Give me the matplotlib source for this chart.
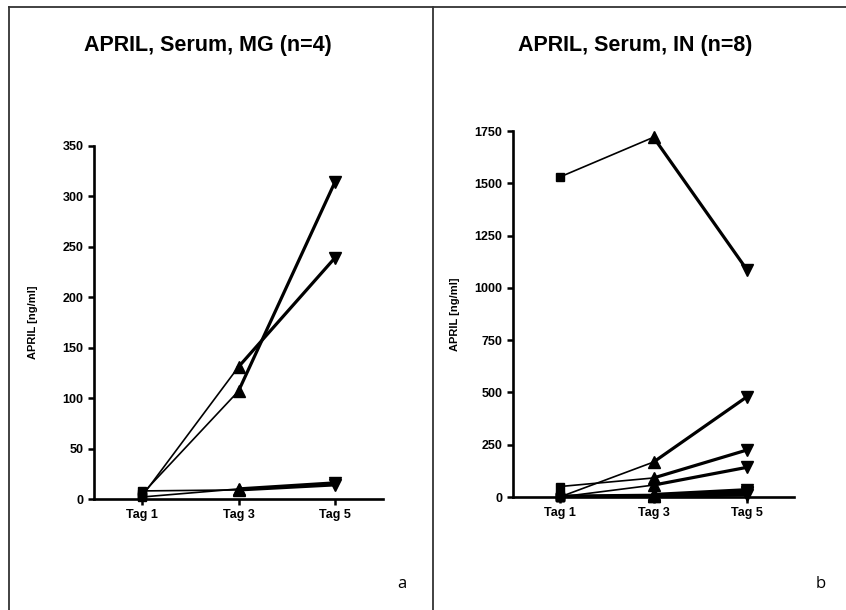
import matplotlib.pyplot as plt
from matplotlib.lines import Line2D

plt.rcParams['font.family'] = ['Liberation Sans', 'DejaVu Sans']

days = ['Tag 1', 'Tag 3', 'Tag 5']

# MG group, n=4 (values per patient: Tag 1, Tag 3, Tag 5)
mg_1 = [5, 107, 314]
mg_2 = [3, 131, 239]
mg_3 = [2, 10, 16]
mg_4 = [8, 9, 14]

# IN group, n=8
in_1 = [1530, 1720, 1085]
in_2 = [0, 167, 480]
in_3 = [50, 91, 225]
in_4 = [0, 57, 142]
in_5 = [8, 12, 35]
in_6 = [4, 8, 25]
in_7 = [2, 5, 18]
in_8 = [1, 3, 10]

mg_series = [mg_1, mg_2, mg_3, mg_4]
in_series = [in_1, in_2, in_3, in_4, in_5, in_6, in_7, in_8]
markers = ['s', '^', 'v']


def draw_panel(ax, series, ymax, ystep, label_x):
    x = list(range(len(days)))
    for s in series:
        # Tag1 -> Tag3 thin, Tag3 -> Tag5 thick
        ax.plot(x[:2], s[:2], color='black', lw=1.2, clip_on=False, zorder=3)
        ax.plot(x[1:], s[1:], color='black', lw=2.3, clip_on=False, zorder=3)
        for i in x:
            ms = 6 if markers[i] == 's' else 8
            ax.plot(x[i], s[i], marker=markers[i], color='black', ms=ms,
                    clip_on=False, zorder=4)
    ax.set_xlim(-0.5, 2.5)
    ax.set_ylim(0, ymax)
    ax.set_xticks(x)
    ax.set_xticklabels(days, fontsize=9, fontweight='bold')
    ax.set_yticks(range(0, ymax + 1, ystep))
    ax.tick_params(axis='y', labelsize=9, width=1.8, length=4)
    ax.tick_params(axis='x', width=1.8, length=4)
    for lab in ax.get_yticklabels():
        lab.set_fontweight('bold')
    ax.spines['top'].set_visible(False)
    ax.spines['right'].set_visible(False)
    ax.spines['left'].set_linewidth(1.9)
    ax.spines['bottom'].set_linewidth(1.9)
    ax.set_ylabel('APRIL [ng/ml]', fontsize=8, fontweight='bold')
    ax.yaxis.set_label_coords(label_x, 0.5)


fig = plt.figure(figsize=(8.46, 6.10), dpi=100)

ax1 = fig.add_axes([94 / 846, 111 / 610, 289 / 846, 353 / 610])
ax2 = fig.add_axes([513 / 846, 113 / 610, 281 / 846, 366 / 610])

draw_panel(ax1, mg_series, 350, 50, -0.193)
draw_panel(ax2, in_series, 1750, 250, -0.19)

fig.text(208 / 846, 1 - 45 / 610, 'APRIL, Serum, MG (n=4)', ha='center',
         va='center', fontsize=15.5, fontweight='bold')
fig.text(635 / 846, 1 - 45 / 610, 'APRIL, Serum, IN (n=8)', ha='center',
         va='center', fontsize=15.5, fontweight='bold')

fig.text(402 / 846, 1 - 584 / 610, 'a', ha='center', va='center',
         fontsize=12, family='Open Sans')
fig.text(821 / 846, 1 - 584 / 610, 'b', ha='center', va='center',
         fontsize=12, family='Open Sans')

# frame lines of the figure panels
fig.add_artist(Line2D([9 / 846, 1], [1 - 7 / 610] * 2, color='#333333', lw=1.3))
fig.add_artist(Line2D([9 / 846] * 2, [0, 1 - 7 / 610], color='#333333', lw=1.3))
fig.add_artist(Line2D([433 / 846] * 2, [0, 1 - 7 / 610], color='#333333', lw=1.3))

fig.savefig('out.png', dpi=100)
